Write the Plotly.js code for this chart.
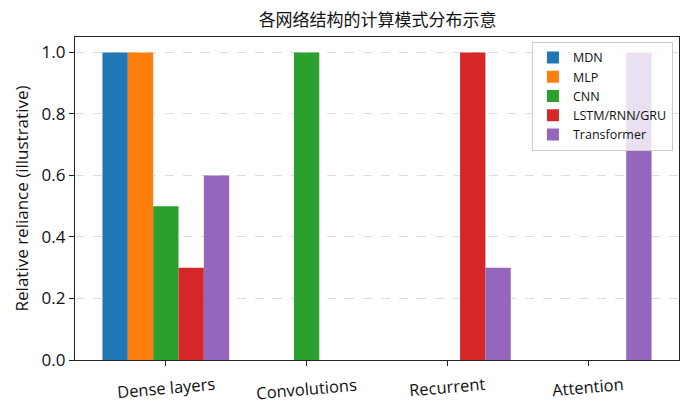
<!DOCTYPE html>
<html>
<head>
<meta charset="utf-8">
<script src="https://cdn.plot.ly/plotly-3.0.1.min.js"></script>
<style>
html, body { margin: 0; padding: 0; background: #fff; }
#chart { width: 691px; height: 413px; }
</style>
</head>
<body>
<div id="chart"></div>
<script>
// Categories and per-model reliance values.
const categories = ['Dense layers', 'Convolutions', 'Recurrent', 'Attention'];
const models = ['MDN', 'MLP', 'CNN', 'LSTM/RNN/GRU', 'Transformer'];
const mdn_values = [1.0, 0, 0, 0];
const mlp_values = [1.0, 0, 0, 0];
const cnn_values = [0.5, 1.0, 0, 0];
const lstm_values = [0.3, 0, 1.0, 0];
const transformer_values = [0.6, 0, 0.3, 1.0];
const colors = ['#1f77b4', '#ff7f0e', '#2ca02c', '#d62728', '#9467bd'];
const y_ticks = [0, 0.2, 0.4, 0.6, 0.8, 1.0];

const series = [mdn_values, mlp_values, cnn_values, lstm_values, transformer_values];
const font_family = '"Open Sans", "Noto Sans CJK SC", sans-serif';

// One bar trace per model.
let graph_data = series.map(function(vals, i) {
return {
type: 'bar',
x: categories,
y: vals,
name: models[i],
marker: {color: colors[i], line: {width: 0}},
hoverinfo: 'x+y+name'
};
});

// Slightly tilted category labels, centred under each tick.
let label_annotations = categories.map(function(c) {
return {
x: c,
xref: 'x',
y: 0,
yref: 'paper',
yanchor: 'top',
yshift: -10,
text: c,
textangle: -5,
showarrow: false,
font: {size: 16.5, color: '#111', family: font_family}
};
});

let layout = {
width: 691,
height: 413,
margin: {l: 75, r: 12, t: 37, b: 53},
paper_bgcolor: '#fff',
plot_bgcolor: '#fff',
font: {family: font_family, color: '#111', size: 16},
barmode: 'group',
bargap: 0.1,
bargroupgap: 0,
showlegend: true,
legend: {
x: 0.99,
y: 0.985,
xanchor: 'right',
yanchor: 'top',
bgcolor: 'rgba(255,255,255,0.8)',
bordercolor: '#cccccc',
borderwidth: 1,
font: {size: 12.5, family: font_family, color: '#111'},
tracegroupgap: 0
},
annotations: label_annotations,
xaxis: {
type: 'category',
range: [-0.645, 3.645],
showticklabels: false,
ticks: 'outside',
ticklen: 5,
tickcolor: '#222',
showline: true,
linecolor: '#222',
linewidth: 1.3,
mirror: true,
showgrid: false,
zeroline: false
},
yaxis: {
range: [0, 1.05],
tickvals: y_ticks,
ticktext: y_ticks.map(v => v.toFixed(1)),
ticks: 'outside',
ticklen: 5,
tickcolor: '#222',
showline: true,
linecolor: '#222',
linewidth: 1.3,
mirror: true,
showgrid: true,
gridcolor: '#dddddd',
griddash: 'dash',
gridwidth: 1,
zeroline: false,
tickfont: {size: 17},
title: {text: 'Relative reliance (illustrative)', font: {size: 17}, standoff: 8}
},
title: {
text: '各网络结构的计算模式分布示意',
font: {size: 17, family: font_family, color: '#111'},
x: 0.5465,
xanchor: 'center',
y: 0.952,
yanchor: 'middle'
}
};

Plotly.newPlot('chart', graph_data, layout, {displayModeBar: false, responsive: false});
</script>
</body>
</html>
